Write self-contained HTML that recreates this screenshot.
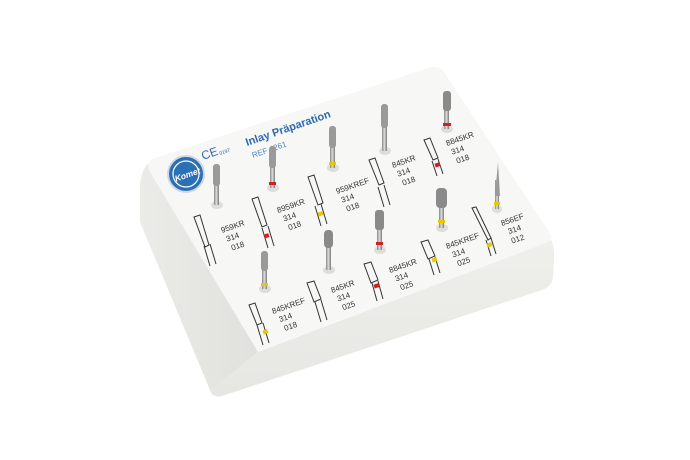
<!DOCTYPE html>
<html><head><style>html,body{margin:0;padding:0;background:#fff;}svg{display:block}</style></head>
<body>
<svg width="690" height="460" viewBox="0 0 690 460" xmlns="http://www.w3.org/2000/svg" font-family="Liberation Sans, sans-serif">
<defs>
<linearGradient id="side" x1="0" y1="0" x2="1" y2="0"><stop offset="0" stop-color="#ebebe8"/><stop offset="1" stop-color="#e0e0dc"/></linearGradient>
<linearGradient id="front" x1="0" y1="0" x2="0" y2="1"><stop offset="0" stop-color="#efefec"/><stop offset="1" stop-color="#e6e6e2"/></linearGradient>
<linearGradient id="bur" x1="0" y1="0" x2="1" y2="0"><stop offset="0" stop-color="#888"/><stop offset=".5" stop-color="#ddd"/><stop offset="1" stop-color="#777"/></linearGradient>
</defs>
<path d="M152 160 Q141 168 140 185 L140 222 L210 390 Q214 398 222 396 L258 352 Z" fill="url(#side)"/>
<path d="M258 352 L551 240 Q555 246 554 262 L553 278 Q552 286 542 290 L222 396 Q212 398 210 390 Z" fill="url(#front)"/>
<path d="M152 159 L428 68 Q438 64 444 72 L549 232 Q554 240 546 243 L258 352 L150 172 Q146 163 152 159 Z" fill="#f7f7f5"/>
<circle cx="186" cy="174" r="18" fill="#2b6fb5" stroke="#cfd8e6" stroke-width="2"/>
<circle cx="186" cy="174" r="13" fill="none" stroke="#fff" stroke-width="1.2"/>
<text x="174" y="178" font-size="8.5" font-style="italic" font-weight="bold" fill="#fff" transform="rotate(-19 186 174)">Komet</text>
<text x="203" y="160" font-size="12" fill="#2a66b0" transform="rotate(-19 203 160)">CE</text>
<text x="220" y="155" font-size="5" fill="#2a66b0" transform="rotate(-19 220 155)">0197</text>
<text x="247" y="146" font-size="11" font-weight="bold" fill="#2a6ab2" transform="rotate(-19 247 146)">Inlay Präparation</text>
<text x="253" y="158" font-size="8" fill="#4a82c0" transform="rotate(-19 253 158)">REF 4261</text>
<g font-size="8" fill="#333">
<g transform="translate(222 233) rotate(-19)"><text>959KR</text><text y="10" x="2">314</text><text y="20" x="4">018</text></g>
<g transform="translate(278 213) rotate(-19)"><text>8959KR</text><text y="10" x="3">314</text><text y="20" x="5">018</text></g>
<g transform="translate(337 194) rotate(-19)"><text>959KREF</text><text y="10" x="2">314</text><text y="20" x="4">018</text></g>
<g transform="translate(393 168) rotate(-19)"><text>845KR</text><text y="10" x="2">314</text><text y="20" x="4">018</text></g>
<g transform="translate(447 146) rotate(-19)"><text>8845KR</text><text y="10" x="2">314</text><text y="20" x="4">018</text></g>
<g transform="translate(273 314) rotate(-19)"><text>845KREF</text><text y="10" x="4">314</text><text y="20" x="6">018</text></g>
<g transform="translate(332 293) rotate(-19)"><text>845KR</text><text y="10" x="3">314</text><text y="20" x="5">025</text></g>
<g transform="translate(390 273) rotate(-19)"><text>8845KR</text><text y="10" x="3">314</text><text y="20" x="5">025</text></g>
<g transform="translate(447 249) rotate(-19)"><text>845KREF</text><text y="10" x="3">314</text><text y="20" x="5">025</text></g>
<g transform="translate(502 226) rotate(-19)"><text>856EF</text><text y="10" x="4">314</text><text y="20" x="4">012</text></g>
</g>
<g stroke="none">
<ellipse cx="217" cy="205" rx="6" ry="4" fill="#ddd"/><rect x="214" y="168" width="5" height="37" fill="url(#bur)"/><rect x="213" y="164" width="7" height="22" rx="3" fill="#9a9a9a"/>
<ellipse cx="273" cy="188" rx="6" ry="4" fill="#ddd"/><rect x="270" y="150" width="5" height="38" fill="url(#bur)"/><rect x="269" y="146" width="7" height="22" rx="3" fill="#9a9a9a"/><rect x="269" y="182" width="7" height="3" fill="#d62020"/>
<ellipse cx="333" cy="168" rx="6" ry="4" fill="#ddd"/><rect x="330" y="130" width="5" height="38" fill="url(#bur)"/><rect x="329" y="126" width="7" height="22" rx="3" fill="#9a9a9a"/><rect x="329" y="162" width="7" height="3" fill="#e8c800"/>
<ellipse cx="385" cy="151" rx="6" ry="4" fill="#ddd"/><rect x="382" y="110" width="5" height="41" fill="url(#bur)"/><rect x="381" y="104" width="7" height="24" rx="3" fill="#9a9a9a"/>
<ellipse cx="447" cy="129" rx="6" ry="4" fill="#ddd"/><rect x="444" y="95" width="5" height="34" fill="url(#bur)"/><rect x="443" y="91" width="8" height="20" rx="3" fill="#8a8a8a"/><rect x="443" y="123" width="8" height="3" fill="#d62020"/>
<ellipse cx="265" cy="289" rx="6" ry="4" fill="#ddd"/><rect x="262" y="255" width="5" height="34" fill="url(#bur)"/><rect x="261" y="251" width="7" height="20" rx="3" fill="#9a9a9a"/><rect x="261" y="283" width="7" height="3" fill="#e8c800"/>
<ellipse cx="329" cy="270" rx="6" ry="4" fill="#ddd"/><rect x="326" y="235" width="5" height="35" fill="url(#bur)"/><rect x="324" y="230" width="9" height="18" rx="4" fill="#8a8a8a"/>
<ellipse cx="380" cy="250" rx="6" ry="4" fill="#ddd"/><rect x="377" y="215" width="5" height="35" fill="url(#bur)"/><rect x="375" y="210" width="9" height="20" rx="3" fill="#8a8a8a"/><rect x="376" y="242" width="7" height="3" fill="#d62020"/>
<ellipse cx="442" cy="228" rx="6" ry="4" fill="#ddd"/><rect x="439" y="195" width="5" height="33" fill="url(#bur)"/><rect x="436" y="188" width="11" height="20" rx="4" fill="#8a8a8a"/><rect x="438" y="220" width="7" height="3" fill="#e8c800"/>
<ellipse cx="497" cy="209" rx="5" ry="4" fill="#ddd"/><rect x="495" y="180" width="4" height="29" fill="url(#bur)"/><path d="M498 162 L500 196 L495 196 Z" fill="#9a9a9a"/><rect x="494" y="202" width="6" height="3" fill="#e8c800"/>
</g>
<g fill="none" stroke="#333" stroke-width="1">
<path d="M194 217 l6 -2 l9 30 l-4 2 Z M204 246 l6 20 M210 244 l6 20"/>
<path d="M252 199 l6 -2 l9 28 l-5 2 Z M262 228 l6 20 M268 226 l6 20"/><rect x="264" y="234" width="5" height="4" fill="#d62020" stroke="none" transform="rotate(-18 266 236)"/>
<path d="M308 177 l6 -2 l9 28 l-5 2 Z M315 206 l6 20 M321 204 l6 20"/><rect x="318" y="212" width="5" height="4" fill="#e8c800" stroke="none" transform="rotate(-18 320 214)"/>
<path d="M369 160 l6 -2 l9 25 l-5 2 Z M378 187 l6 20 M384 185 l6 20"/>
<path d="M424 140 l6 -2 l8 20 l-5 2 Z M432 161 l5 15 M438 159 l5 15"/><rect x="435" y="163" width="5" height="4" fill="#d62020" stroke="none" transform="rotate(-18 437 165)"/>
<path d="M249 305 l6 -2 l7 20 l-5 2 Z M257 325 l6 20 M263 323 l6 20"/><rect x="263" y="330" width="5" height="4" fill="#e8c800" stroke="none" transform="rotate(-18 265 332)"/>
<path d="M307 283 l7 -2 l7 18 l-7 3 Z M315 302 l6 20 M321 300 l6 20"/>
<path d="M364 264 l7 -2 l7 18 l-7 3 Z M372 283 l5 18 M378 281 l5 18"/><rect x="374" y="284" width="5" height="4" fill="#d62020" stroke="none" transform="rotate(-18 376 286)"/>
<path d="M421 242 l7 -2 l7 16 l-7 3 Z M429 259 l5 16 M435 257 l5 16"/><rect x="432" y="258" width="5" height="4" fill="#e8c800" stroke="none" transform="rotate(-18 434 260)"/>
<path d="M472 208 l4 -1 l15 31 l-3 2 Z M486 240 l5 16 M491 238 l5 16"/><rect x="487" y="243" width="5" height="4" fill="#e8c800" stroke="none" transform="rotate(-18 489 245)"/>
</g>
</svg>
</body></html>
